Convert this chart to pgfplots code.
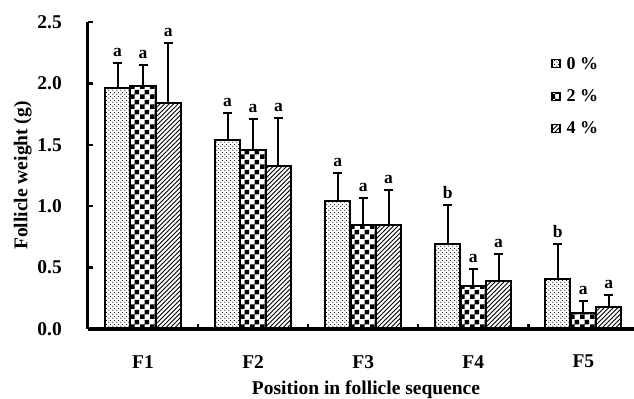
\documentclass[border=0pt]{standalone}
\usepackage{fontspec}
\setmainfont{Liberation Serif}
\usepackage{pgfplots}
\usepackage{pgfplotstable}
\pgfplotsset{compat=1.18}
\usetikzlibrary{patterns}

\pgfdeclarepatternformonly{mydots}{\pgfqpoint{0bp}{0bp}}{\pgfqpoint{4bp}{4bp}}{\pgfqpoint{4bp}{4bp}}{
  \pgfpathcircle{\pgfqpoint{1bp}{1bp}}{0.7bp}
  \pgfpathcircle{\pgfqpoint{3bp}{3bp}}{0.7bp}
  \pgfusepath{fill}}
\pgfdeclarepatternformonly{mychecker}{\pgfqpoint{0bp}{0bp}}{\pgfqpoint{10bp}{10bp}}{\pgfqpoint{10bp}{10bp}}{
  \pgfpathrectangle{\pgfqpoint{0bp}{0bp}}{\pgfqpoint{5bp}{5bp}}
  \pgfpathrectangle{\pgfqpoint{5bp}{5bp}}{\pgfqpoint{5bp}{5bp}}
  \pgfusepath{fill}}
\pgfdeclarepatternformonly{myhatch}{\pgfqpoint{-1bp}{-1bp}}{\pgfqpoint{5.5bp}{5.5bp}}{\pgfqpoint{4.5bp}{4.5bp}}{
  \pgfsetlinewidth{1bp}
  \pgfpathmoveto{\pgfqpoint{0bp}{0bp}}
  \pgfpathlineto{\pgfqpoint{4.6bp}{4.6bp}}
  \pgfusepath{stroke}}

\pgfplotstableread{
x y e lab
1 1.96 0.21 a
2 1.54 0.22 a
3 1.04 0.23 a
4 0.69 0.32 b
5 0.41 0.28 b
}\tzero
\pgfplotstableread{
x y e lab
1 1.98 0.17 a
2 1.46 0.25 a
3 0.85 0.22 a
4 0.35 0.14 a
5 0.13 0.10 a
}\ttwo
\pgfplotstableread{
x y e lab
1 1.84 0.49 a
2 1.33 0.39 a
3 0.85 0.28 a
4 0.39 0.22 a
5 0.18 0.10 a
}\tfour

\begin{document}
\begin{tikzpicture}
\useasboundingbox (-88bp,-70bp) rectangle (546bp,329bp);
\begin{axis}[
  scale only axis,
  width=546bp, height=307bp,
  xmin=0.5, xmax=5.46,
  ymin=0, ymax=2.5,
  axis x line=bottom, axis y line=left,
  axis line style={-, line width=3bp},
  tick align=inside,
  major tick length=5bp,
  tick style={line width=2.5bp, black},
  ytick={0,0.5,...,2.5},
  xtick={1.5,2.5,3.5,4.5},
  xticklabels={},
  extra x ticks={1,2,3,4,5},
  extra x tick labels={F1,F2,F3,F4,F5},
  extra x tick style={major tick length=0pt, xticklabel style={inner sep=0pt, anchor=north, yshift=-26bp}},
  /pgf/number format/assume math mode=true,
  yticklabel style={/pgf/number format/fixed, /pgf/number format/fixed zerofill, /pgf/number format/precision=1},
  yticklabel style={inner sep=0pt, xshift=-26bp},
  ticklabel style={font=\fontsize{19.5bp}{22bp}\selectfont\bfseries},
  ylabel={Follicle weight (g)},
  xlabel={Position in follicle sequence},
  label style={font=\fontsize{19.5bp}{22bp}\selectfont\bfseries, inner sep=0pt},
  ylabel style={at={(axis description cs:0,0.5)}, anchor=south, yshift=56bp},
  xlabel style={at={(axis description cs:0.5,0)}, anchor=north, yshift=-52bp, xshift=5bp},
  legend style={draw=none, fill=none, at={(0.848,0.893)}, anchor=north west,
    inner sep=0pt, row sep=15bp, font=\fontsize{18bp}{20bp}\selectfont\bfseries,
    /tikz/every odd column/.append style={column sep=4bp}},
  legend cell align=left,
  legend image code/.code={\draw[#1, line width=1.4bp] (0bp,-4bp) rectangle (8bp,4bp);},
  clip=false,
]
\addplot[ybar, bar width=0.23, bar shift=0pt, draw=black, line width=2bp, pattern=mydots,
  error bars/.cd, y dir=plus, y explicit,
  error bar style={line width=2bp, solid},
  error mark options={rotate=90, mark size=4.5bp, line width=2bp}]
  table[x expr=\thisrow{x}-0.232, y=y, y error=e]{\tzero};
\addlegendentry{0 \%}
\addplot[ybar, bar width=0.23, bar shift=0pt, draw=black, line width=2bp, pattern=mychecker,
  error bars/.cd, y dir=plus, y explicit,
  error bar style={line width=2bp, solid},
  error mark options={rotate=90, mark size=4.5bp, line width=2bp}]
  table[x expr=\thisrow{x}, y=y, y error=e]{\ttwo};
\addlegendentry{2 \%}
\addplot[ybar, bar width=0.23, bar shift=0pt, draw=black, line width=2bp, pattern=myhatch,
  error bars/.cd, y dir=plus, y explicit,
  error bar style={line width=2bp, solid},
  error mark options={rotate=90, mark size=4.5bp, line width=2bp}]
  table[x expr=\thisrow{x}+0.23, y=y, y error=e]{\tfour};
\addlegendentry{4 \%}

\pgfplotsset{lettstyle/.style={draw=none, mark=none, forget plot, nodes near coords,
  point meta=explicit symbolic,
  nodes near coords style={anchor=south, inner sep=0pt, yshift=6bp, font=\fontsize{17.5bp}{20bp}\selectfont\bfseries}}}
\addplot[lettstyle] table[x expr=\thisrow{x}-0.232, y expr=\thisrow{y}+\thisrow{e}, meta=lab]{\tzero};
\addplot[lettstyle] table[x expr=\thisrow{x}, y expr=\thisrow{y}+\thisrow{e}, meta=lab]{\ttwo};
\addplot[lettstyle] table[x expr=\thisrow{x}+0.23, y expr=\thisrow{y}+\thisrow{e}, meta=lab]{\tfour};
\end{axis}
\end{tikzpicture}
\end{document}
